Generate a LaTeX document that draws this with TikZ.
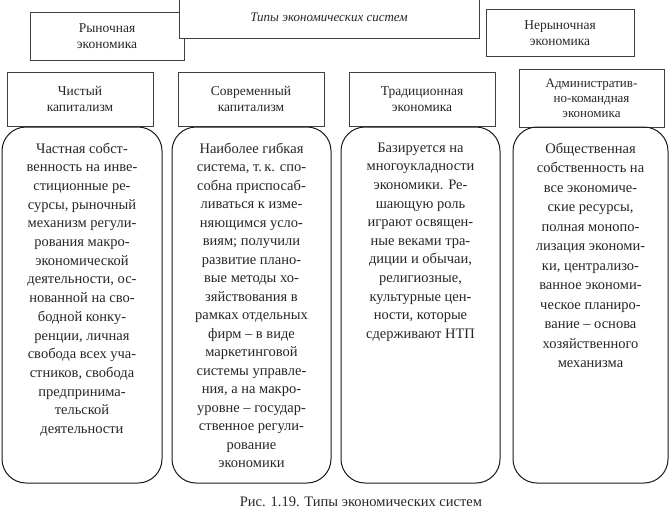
\documentclass[tikz,border=0pt]{standalone}
\usepackage{fontspec}
\setmainfont{Liberation Serif}
\usetikzlibrary{positioning}

\begin{document}
\begin{tikzpicture}[x=1pt, y=-1pt,
  hdr/.style={draw=black!75, line width=0.8pt, align=center, inner sep=0pt,
    text=black!85, font=\fontsize{13.5}{16}\selectfont},
  colbox/.style={draw=black!90, line width=1pt, rounded corners=24pt, inner sep=0pt},
  coltext/.style={align=center, inner sep=0pt, text=black!85,
    font=\fontsize{14.5}{18.7}\selectfont}]
  \useasboundingbox (0,0) rectangle (672,512);
  % top level
  \node[hdr, minimum width=154, minimum height=48] (market) at (107,36) {Рыночная\\экономика};
  \node[hdr, minimum width=148, minimum height=47] (nonmarket) at (560,33) {Нерыночная\\экономика};
  \node[hdr, fill=white, minimum width=300, minimum height=42, font=\fontsize{13}{15}\itshape] (title) at (329,17) {Типы экономических систем};
  % second level
  \node[hdr, minimum width=146, minimum height=54] (pure) at (80,99) {Чистый\\капитализм};
  \node[hdr, minimum width=146, minimum height=54] (modern) at (251,99) {Современный\\капитализм};
  \node[hdr, minimum width=146, minimum height=54] (trad) at (422,99) {Традиционная\\экономика};
  \node[hdr, minimum width=145, minimum height=58, font=\fontsize{13}{15}\selectfont] (admin) at (591.5,98) {Административ-\\но-командная\\экономика};
  % columns
  \node[colbox, minimum width=160, minimum height=356] (c1) at (82,305) {};
  \node[colbox, minimum width=159, minimum height=356] (c2) at (251.5,305) {};
  \node[colbox, minimum width=159, minimum height=356] (c3) at (420.5,305) {};
  \node[colbox, minimum width=155, minimum height=356] (c4) at (590.5,305) {};
  \node[coltext, below=16pt of c1.north] (t1) {Частная собст-\\венность на инве-\\стиционные ре-\\сурсы, рыночный\\механизм регули-\\рования макро-\\экономической\\деятельности, ос-\\нованной на сво-\\бодной конку-\\ренции, личная\\свобода всех уча-\\стников, свобода\\предпринима-\\тельской\\деятельности};
  \node[coltext, below=16pt of c2.north, font=\fontsize{14.5}{18.5}\selectfont] (t2) {Наиболее гибкая\\система, т.\,к. спо-\\собна приспосаб-\\ливаться к изме-\\няющимся усло-\\виям; получили\\развитие плано-\\вые методы хо-\\зяйствования в\\рамках отдельных\\фирм – в виде\\маркетинговой\\системы управле-\\ния, а на макро-\\уровне – государ-\\ственное регули-\\рование\\экономики};
  \node[coltext, below=16pt of c3.north, font=\fontsize{14.5}{18.6}\selectfont] (t3) {Базируется на\\многоукладности\\экономики. Ре-\\шающую роль\\играют освящен-\\ные веками тра-\\диции и обычаи,\\религиозные,\\культурные цен-\\ности, которые\\сдерживают НТП};
  \node[coltext, below=16pt of c4.north, font=\fontsize{14.5}{19.5}\selectfont] (t4) {Общественная\\собственность на\\все экономиче-\\ские ресурсы,\\полная монопо-\\лизация экономи-\\ки, централизо-\\ванное экономи-\\ческое планиро-\\вание – основа\\хозяйственного\\механизма};
  % caption
  \node[text=black!85, font=\fontsize{14.5}{16}\selectfont, inner sep=0pt] (caption) at (361,502) {Рис. 1.19. Типы экономических систем};
\end{tikzpicture}
\end{document}
